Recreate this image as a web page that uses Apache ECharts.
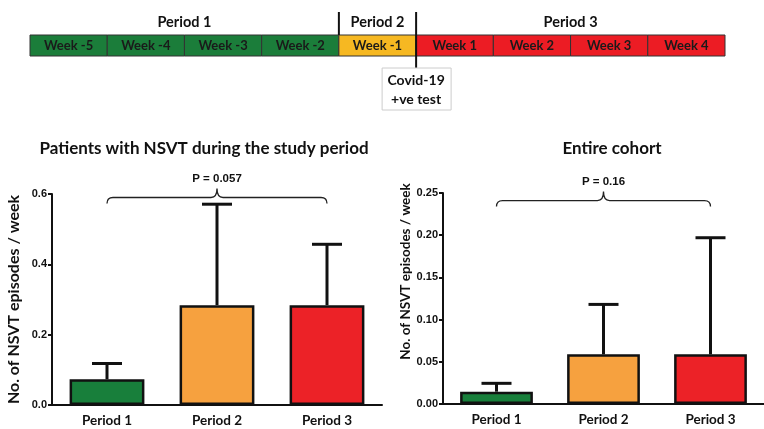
<!DOCTYPE html>
<html>
<head>
<meta charset="utf-8">
<script src="https://cdn.jsdelivr.net/npm/echarts@6/dist/echarts.min.js"></script>
<style>
  html, body { margin: 0; background: #fff; }
  #chart { width: 764px; height: 429px; }
</style>
</head>
<body>
<div id="chart"></div>
<script>
// timeline
const weeks = ['Week -5', 'Week -4', 'Week -3', 'Week -2', 'Week -1', 'Week 1', 'Week 2', 'Week 3', 'Week 4'];
const weekPeriod = [0, 0, 0, 0, 1, 2, 2, 2, 2];
const periods = ['Period 1', 'Period 2', 'Period 3'];
const testLabel = ['Covid-19', '+ve test'];

// bar charts
const nsvtMean = [0.073, 0.284, 0.284];
const nsvtUpper = [0.118, 0.571, 0.457];
const cohortMean = [0.0146, 0.0588, 0.0588];
const cohortUpper = [0.0245, 0.118, 0.197];
const pValues = ['P = 0.057', 'P = 0.16'];
const bracketLevel = [0.59, 0.241];

const timelineColors = ['#1b7d3a', '#f6b822', '#ec1c24'];
const barColors = ['#187f3b', '#f6a13f', '#ec2227'];
const TITLE_FONT = 'Lato, "Open Sans", sans-serif';
const AXIS_FONT = '"Liberation Sans", Arial, sans-serif';

const chart = echarts.init(document.getElementById('chart'), null, { renderer: 'canvas' });

// ---- timeline drawn on its own grid (x = week index)
function timelineItem(params, api) {
  const i = api.value(0);
  const p0 = api.coord([i, 1]);
  const p1 = api.coord([i + 1, 0]);
  return {
    type: 'rect',
    shape: { x: p0[0], y: p0[1], width: p1[0] - p0[0], height: p1[1] - p0[1] },
    style: { fill: timelineColors[weekPeriod[i]], stroke: '#333', lineWidth: 1 },
    textContent: {
      style: { text: weeks[i], fill: '#1a1a1a', font: 'bold 13px ' + TITLE_FONT }
    },
    textConfig: { position: 'inside' }
  };
}

function timelineNotes(params, api) {
  const children = [];
  periods.forEach((name, k) => {
    const idx = weekPeriod.map((p, i) => p === k ? i : -1).filter(i => i >= 0);
    const c = api.coord([(idx[0] + idx[idx.length - 1] + 1) / 2, 1]);
    children.push({
      type: 'text', x: c[0], y: c[1] - 13,
      style: { text: name, font: 'bold 14.5px ' + TITLE_FONT, fill: '#111', align: 'center', verticalAlign: 'middle' }
    });
  });
  // divider between period 1 and 2
  const d1 = api.coord([4, 1]);
  children.push({ type: 'line', shape: { x1: d1[0], y1: d1[1] - 23, x2: d1[0], y2: d1[1] }, style: { stroke: '#111', lineWidth: 2 } });
  // divider at the positive test, extends down to the note box
  const d2 = api.coord([5, 1]);
  children.push({ type: 'line', shape: { x1: d2[0], y1: d2[1] - 23, x2: d2[0], y2: d2[1] + 33 }, style: { stroke: '#111', lineWidth: 2 } });
  children.push({
    type: 'rect', shape: { x: d2[0] - 34, y: d2[1] + 33, width: 69, height: 42 },
    style: { fill: '#fff', stroke: '#ccc', lineWidth: 1 }
  });
  testLabel.forEach((t, j) => {
    children.push({
      type: 'text', x: d2[0], y: d2[1] + 45 + j * 19,
      style: { text: t, font: 'bold 14px ' + TITLE_FONT, fill: '#111', align: 'center', verticalAlign: 'middle' }
    });
  });
  return { type: 'group', children };
}

// ---- error bars (value to upper end, with cap)
function errorItem(params, api) {
  const base = api.coord([api.value(0), api.value(1)]);
  const top = api.coord([api.value(0), api.value(2)]);
  const style = { stroke: '#111', lineWidth: 3 };
  return {
    type: 'group',
    children: [
      { type: 'line', shape: { x1: base[0], y1: base[1], x2: top[0], y2: top[1] }, style },
      { type: 'line', shape: { x1: top[0] - 15, y1: top[1], x2: top[0] + 15, y2: top[1] }, style }
    ]
  };
}

// ---- curly bracket between first and last category with p value
function bracketItem(params, api) {
  const a = api.coord([api.value(0), api.value(2)]);
  const b = api.coord([api.value(1), api.value(2)]);
  const y = a[1];
  const m = (a[0] + b[0]) / 2;
  const r = 6;
  const path = `M${a[0]},${y + r} Q${a[0]},${y} ${a[0] + r},${y} L${m - r},${y} Q${m},${y} ${m},${y - r - 3}`
    + ` Q${m},${y} ${m + r},${y} L${b[0] - r},${y} Q${b[0]},${y} ${b[0]},${y + r}`;
  return {
    type: 'group',
    children: [
      { type: 'path', shape: { pathData: path }, style: { stroke: '#222', lineWidth: 1.3, fill: null } },
      {
        type: 'text', x: m, y: y - 19,
        style: { text: pValues[api.value(3)], font: 'bold 11.5px ' + AXIS_FONT, fill: '#111', align: 'center', verticalAlign: 'middle' }
      }
    ]
  };
}

function yAxisCfg(grid, max, interval, digits) {
  return {
    type: 'value', gridIndex: grid, min: 0, max, interval,
    name: 'No. of NSVT episodes / week', nameLocation: 'middle', nameGap: 30,
    nameTextStyle: {
      fontFamily: TITLE_FONT, fontWeight: 'bold', fontSize: grid === 0 ? 16 : 13.5, color: '#111',
      padding: grid === 0 ? 0 : [0, 0, 0, 54]
    },
    axisLine: { show: true, lineStyle: { color: '#111', width: 2 } },
    axisTick: { show: true, length: 4, lineStyle: { color: '#111', width: 2 } },
    axisLabel: { formatter: v => v.toFixed(digits), fontFamily: AXIS_FONT, fontWeight: 'bold', fontSize: 11, color: '#111', margin: 5 },
    splitLine: { show: false }
  };
}

function xAxisCfg(grid) {
  return {
    type: 'category', gridIndex: grid, data: periods,
    axisLine: { lineStyle: { color: '#111', width: 2 } },
    axisTick: { alignWithLabel: true, length: 5, lineStyle: { color: '#111', width: 2 } },
    axisLabel: { fontFamily: TITLE_FONT, fontWeight: 'bold', fontSize: 13.5, color: '#111', margin: 9 }
  };
}

function barSeries(grid, values) {
  return {
    type: 'bar', xAxisIndex: grid, yAxisIndex: grid, barWidth: '68%',
    data: values.map((v, i) => ({ value: v, itemStyle: { color: barColors[i] } })),
    itemStyle: { borderColor: '#111', borderWidth: 2.5 },
    silent: true
  };
}

chart.setOption({
  animation: false,
  title: [
    { text: 'Patients with NSVT during the study period', left: 199, top: 135, textAlign: 'center',
      textStyle: { fontFamily: TITLE_FONT, fontWeight: 'bold', fontSize: 17, color: '#111' } },
    { text: 'Entire cohort', left: 607, top: 135, textAlign: 'center',
      textStyle: { fontFamily: TITLE_FONT, fontWeight: 'bold', fontSize: 17, color: '#111' } }
  ],
  grid: [
    { left: 52, top: 194, width: 330, height: 211 },
    { left: 443, top: 193, width: 321, height: 211 },
    { left: 30, top: 35, width: 695, height: 21 }
  ],
  xAxis: [
    xAxisCfg(0), xAxisCfg(1),
    { type: 'value', gridIndex: 2, min: 0, max: weeks.length, show: false }
  ],
  yAxis: [
    yAxisCfg(0, 0.6, 0.2, 1), yAxisCfg(1, 0.25, 0.05, 2),
    { type: 'value', gridIndex: 2, min: 0, max: 1, show: false }
  ],
  series: [
    barSeries(0, nsvtMean),
    barSeries(1, cohortMean),
    {
      type: 'custom', xAxisIndex: 0, yAxisIndex: 0, renderItem: errorItem, z: 3,
      data: nsvtMean.map((v, i) => [i, v, nsvtUpper[i]])
    },
    {
      type: 'custom', xAxisIndex: 1, yAxisIndex: 1, renderItem: errorItem, z: 3,
      data: cohortMean.map((v, i) => [i, v, cohortUpper[i]])
    },
    {
      type: 'custom', xAxisIndex: 0, yAxisIndex: 0, renderItem: bracketItem, z: 3,
      data: [[0, periods.length - 1, bracketLevel[0], 0]]
    },
    {
      type: 'custom', xAxisIndex: 1, yAxisIndex: 1, renderItem: bracketItem, z: 3,
      data: [[0, periods.length - 1, bracketLevel[1], 1]]
    },
    {
      type: 'custom', xAxisIndex: 2, yAxisIndex: 2, renderItem: timelineItem,
      data: weeks.map((w, i) => [i])
    },
    {
      type: 'custom', xAxisIndex: 2, yAxisIndex: 2, renderItem: timelineNotes, z: 4,
      data: [[0]]
    }
  ]
});
</script>
</body>
</html>
